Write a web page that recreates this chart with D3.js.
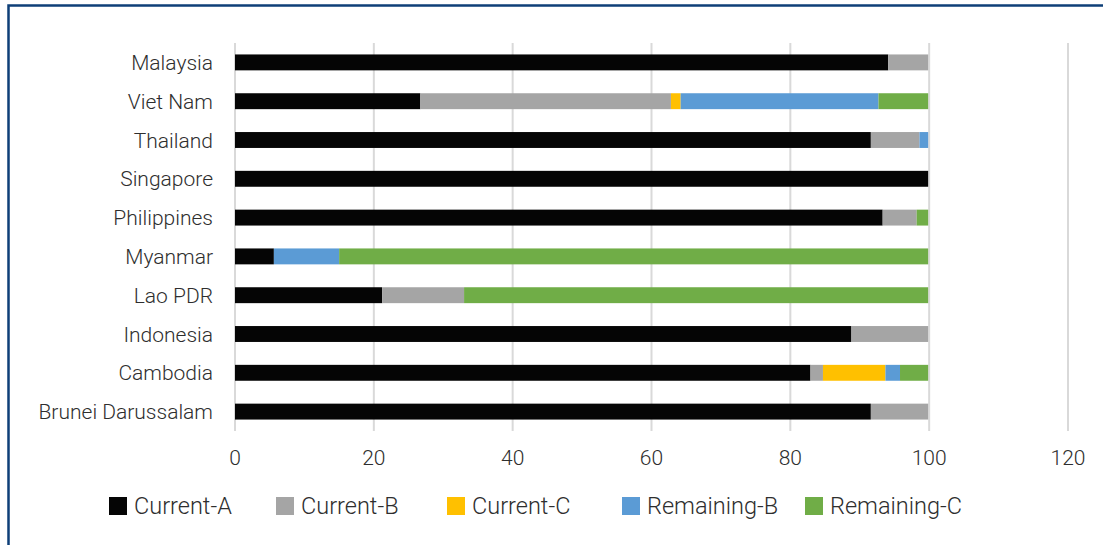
<!DOCTYPE html>
<html>
<head>
<meta charset="utf-8">
<script src="https://cdn.jsdelivr.net/npm/d3@7"></script>
<style>
  html, body { margin: 0; padding: 0; background: #fff; }
  svg { display: block; }
  text { font-family: Roboto, "Open Sans", sans-serif; font-weight: 300; fill: #2e2e2e; }
</style>
</head>
<body>
<svg id="chart" width="1103" height="545"></svg>
<script>
// Categories from top to bottom
const categories = [
  "Malaysia", "Viet Nam", "Thailand", "Singapore", "Philippines",
  "Myanmar", "Lao PDR", "Indonesia", "Cambodia", "Brunei Darussalam"
];

const seriesNames = ["Current-A", "Current-B", "Current-C", "Remaining-B", "Remaining-C"];
const seriesColors = ["#050505", "#a5a5a5", "#ffc000", "#5b9bd5", "#70ad47"];

// Values per category, same order as categories
const currentA    = [94.1, 26.7, 91.6, 100, 93.3, 5.6, 21.2, 88.8, 82.9, 91.6];
const currentB    = [5.9, 36.1, 7.0, 0, 4.9, 0, 11.8, 11.2, 1.8, 8.4];
const currentC    = [0, 1.4, 0, 0, 0, 0, 0, 0, 9.0, 0];
const remainingB  = [0, 28.5, 1.4, 0, 0, 9.4, 0, 0, 2.1, 0];
const remainingC  = [0, 7.3, 0, 0, 1.8, 85.0, 67.0, 0, 4.2, 0];

const xTicks = [0, 20, 40, 60, 80, 100, 120];

const svg = d3.select("#chart");
const width = 1103, height = 545;

// Frame border
svg.append("rect")
  .attr("x", 8.5)
  .attr("y", 5.5)
  .attr("width", width + 20)
  .attr("height", height + 20)
  .attr("fill", "none")
  .attr("stroke", "#0e3f78")
  .attr("stroke-width", 2.5);

// Build rows for the stack
const seriesData = [currentA, currentB, currentC, remainingB, remainingC];
const rows = categories.map((c, i) => {
  const row = { category: c };
  seriesNames.forEach((s, j) => { row[s] = seriesData[j][i]; });
  return row;
});

const stacked = d3.stack().keys(seriesNames)(rows);

const x = d3.scaleLinear().domain([0, 120]).range([235, 1068]);
const y = d3.scaleBand()
  .domain(categories)
  .range([43, 431])
  .paddingInner(0.59)
  .paddingOuter(0.295);

const color = d3.scaleOrdinal().domain(seriesNames).range(seriesColors);

// Gridlines
svg.append("g")
  .selectAll("line")
  .data(xTicks)
  .join("line")
  .attr("x1", d => x(d))
  .attr("x2", d => x(d))
  .attr("y1", 43)
  .attr("y2", 431)
  .attr("stroke", "#d9d9d9")
  .attr("stroke-width", 2);

// Bars
svg.append("g")
  .selectAll("g")
  .data(stacked)
  .join("g")
  .attr("fill", d => color(d.key))
  .selectAll("rect")
  .data(d => d)
  .join("rect")
  .attr("x", d => x(d[0]))
  .attr("y", d => y(d.data.category))
  .attr("width", d => Math.max(0, x(d[1]) - x(d[0]) - (d[1] >= 100 ? 1 : 0)))
  .attr("height", y.bandwidth());

// X tick labels
svg.append("g")
  .selectAll("text")
  .data(xTicks)
  .join("text")
  .attr("x", d => x(d))
  .attr("y", 465)
  .attr("text-anchor", "middle")
  .style("font-size", "21px")
  .text(d => d);

// Category labels
svg.append("g")
  .selectAll("text")
  .data(categories)
  .join("text")
  .attr("x", 213)
  .attr("y", d => y(d) + y.bandwidth() / 2)
  .attr("dy", "0.36em")
  .attr("text-anchor", "end")
  .style("font-size", "21px")
  .text(d => d);

// Legend
const legendX = [109, 276, 447, 622, 805];
const legend = svg.append("g")
  .selectAll("g")
  .data(seriesNames)
  .join("g")
  .attr("transform", (d, i) => `translate(${legendX[i]}, 497)`);

legend.append("rect")
  .attr("width", 18)
  .attr("height", 18)
  .attr("fill", d => color(d));

legend.append("text")
  .attr("x", 25)
  .attr("y", 17)
  .style("font-size", "23.5px")
  .text(d => d);
</script>
</body>
</html>
